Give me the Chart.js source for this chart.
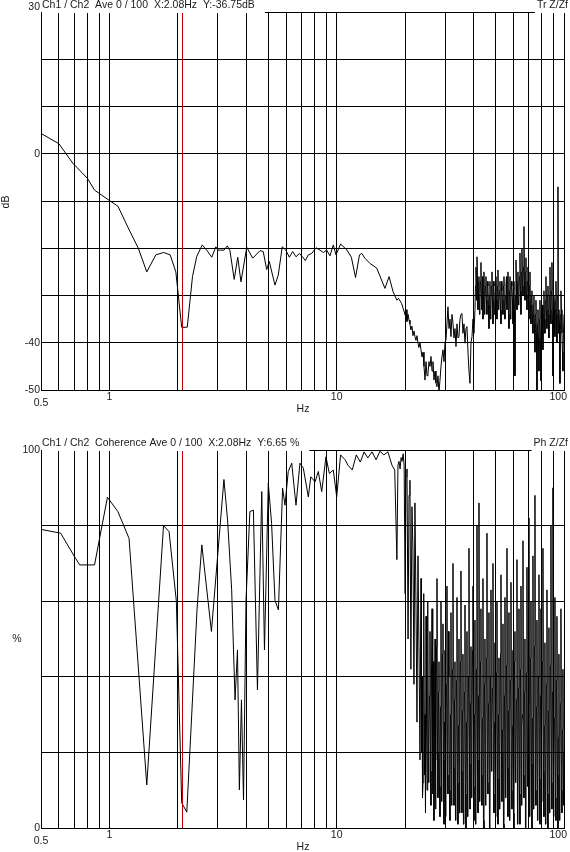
<!DOCTYPE html>
<html lang="en">
<head>
<meta charset="UTF-8">
<title>Tr Z/Zf and Coherence</title>
<style>
    body { margin: 0; background: #fff; }
    .wrap { position: relative; width: 570px; height: 852px; }
    canvas { position: absolute; left: 0; }
    #trChart { top: 0; }
    #cohChart { top: 426px; }
</style>
</head>
<body>
<div class="wrap">
    <canvas id="trChart" width="570" height="426"></canvas>
    <canvas id="cohChart" width="570" height="426"></canvas>
</div>
<script src="https://cdn.jsdelivr.net/npm/chart.js"></script>
<script>
// axes
const xGridHz = [0.5, 0.6, 0.7, 0.8, 0.9, 1, 2, 3, 4, 5, 6, 7, 8, 9, 10, 20, 30, 40, 50, 60, 70, 80, 90, 100];
const xLabelHz = [0.5, 1, 10, 100];
const cursorHz = 2.08;
const trGridDb = [30, 20, 10, 0, -10, -20, -30, -40, -50];
const trLabelDb = [30, 0, -40, -50];
const cohGridPct = [0, 20, 40, 60, 80, 100];
const cohLabelPct = [100, 0];

// transfer function, low band (Hz / dB)
const trFreqLo = [0.5, 0.6, 0.69, 0.8, 0.86, 1.0, 1.09, 1.21, 1.34, 1.46, 1.6, 1.73, 1.85, 1.96, 2.08, 2.2, 2.32, 2.42,
    2.56, 2.68, 2.82, 2.94, 3.01, 3.19, 3.3, 3.39, 3.54, 3.67, 3.79, 4.02, 4.27, 4.6, 4.75, 4.92, 5.05, 5.35, 5.53, 5.76,
    5.97, 6.19, 6.4, 6.62, 6.85, 7.06, 7.28, 7.5, 7.76, 8.11, 8.44, 8.73, 9.04, 9.34, 9.66, 9.93, 10.4, 11.1, 11.6, 12.1,
    12.6, 12.9, 13.3, 14.0, 15.0, 16.3, 17.0, 17.7, 18.4, 18.7, 19.3];
const trDbLo = [4.3, 2.1, -2.0, -5.2, -7.7, -9.9, -11.1, -15.7, -20.0, -25.0, -21.4, -20.9, -21.4, -25.0, -36.75, -36.7,
    -26.0, -21.8, -19.3, -20.4, -21.9, -19.7, -20.4, -20.4, -19.5, -20.5, -26.6, -21.9, -27.1, -19.8, -22.1, -20.5, -20.7,
    -24.5, -22.8, -27.8, -25.7, -19.7, -20.4, -21.9, -20.7, -21.8, -21.1, -21.8, -22.6, -21.4, -21.1, -19.9, -20.4, -20.9,
    -20.4, -21.6, -19.3, -21.4, -19.1, -20.4, -21.9, -26.2, -21.4, -21.1, -22.1, -23.2, -24.2, -28.5, -26.0, -29.2, -31.0,
    -30.6, -31.7];

// frequency bins of the dense band (18.4 .. 100 Hz)
const hzBins = [18.4, 18.6, 18.8, 19.0, 19.2, 19.4, 19.6, 19.8, 20.0, 20.18, 20.38, 20.6, 20.8, 21.0, 21.2, 21.43, 21.65,
    21.87, 22.09, 22.32, 22.55, 22.78, 23.01, 23.25, 23.49, 23.73, 23.97, 24.21, 24.46, 24.71, 24.96, 25.21, 25.47, 25.73,
    25.99, 26.26, 26.52, 26.79, 27.07, 27.34, 27.62, 27.90, 28.18, 28.47, 28.76, 29.05, 29.35, 29.65, 29.95, 30.25, 30.56,
    30.87, 31.19, 31.50, 31.82, 32.15, 32.48, 32.81, 33.14, 33.48, 33.82, 34.16, 34.51, 34.86, 35.21, 35.57, 35.93, 36.30,
    36.67, 37.05, 37.42, 37.81, 38.19, 38.58, 38.97, 39.37, 39.77, 40.17, 40.58, 41.00, 41.42, 41.84, 42.26, 42.69, 43.12,
    43.56, 44.00, 44.45, 44.90, 45.36, 45.82, 46.29, 46.76, 47.24, 47.72, 48.21, 48.70, 49.19, 49.69, 50.20, 50.71, 51.23,
    51.75, 52.28, 52.81, 53.35, 53.89, 54.44, 54.99, 55.55, 56.12, 56.69, 57.27, 57.85, 58.44, 59.03, 59.63, 60.24, 60.85,
    61.47, 62.10, 62.73, 63.37, 64.01, 64.67, 65.32, 65.99, 66.66, 67.34, 68.02, 68.72, 69.41, 70.12, 70.84, 71.56, 72.28,
    73.02, 73.76, 74.51, 75.27, 76.04, 76.81, 77.59, 78.38, 79.18, 79.99, 80.80, 81.62, 82.45, 83.29, 84.14, 85.00, 85.86,
    86.73, 87.61, 88.51, 89.41, 90.32, 91.24, 92.17, 93.11, 94.05, 95.01, 95.98, 96.96, 97.94, 98.94, 100];
// in-between bins of the dense band (23.37 .. 99.44 Hz)
const hzMid = [23.37, 23.61, 23.85, 24.09, 24.33, 24.58, 24.83, 25.08, 25.34, 25.60, 25.86, 26.12, 26.39, 26.65, 26.93,
    27.21, 27.48, 27.76, 28.04, 28.32, 28.61, 28.91, 29.20, 29.50, 29.80, 30.10, 30.40, 30.71, 31.03, 31.34, 31.66, 31.98,
    32.31, 32.64, 32.98, 33.31, 33.65, 33.99, 34.33, 34.68, 35.04, 35.39, 35.75, 36.11, 36.48, 36.86, 37.24, 37.61, 38.00,
    38.39, 38.78, 39.17, 39.57, 39.97, 40.37, 40.79, 41.21, 41.63, 42.05, 42.48, 42.91, 43.34, 43.78, 44.22, 44.68, 45.13,
    45.59, 46.05, 46.53, 47.00, 47.48, 47.96, 48.45, 48.95, 49.44, 49.94, 50.45, 50.97, 51.49, 52.01, 52.55, 53.08, 53.62,
    54.16, 54.72, 55.27, 55.83, 56.40, 56.98, 57.56, 58.14, 58.74, 59.33, 59.93, 60.55, 61.16, 61.78, 62.42, 63.05, 63.69,
    64.34, 64.99, 65.66, 66.32, 67.00, 67.68, 68.37, 69.06, 69.76, 70.48, 71.20, 71.92, 72.65, 73.39, 74.13, 74.89, 75.65,
    76.42, 77.20, 77.98, 78.78, 79.58, 80.39, 81.21, 82.03, 82.87, 83.71, 84.57, 85.43, 86.29, 87.17, 88.06, 88.96, 89.86,
    90.78, 91.70, 92.64, 93.58, 94.53, 95.50, 96.47, 97.45, 98.44, 99.44];

// transfer function, dense band from 20 Hz (hzBins index 8)
const trDbHi = [-34.1, -33, -35.5, -34, -35.2, -36, -37.3, -36.5, -38.5, -37.5, -38.7, -39.5, -38.5, -40.1, -41, -40,
    -41.5, -43, -42, -45, -47.9, -44, -47, -46.5, -44, -45, -42.9, -46, -44, -47.9, -46, -48.5, -49.3, -47, -50.5, -47.9,
    -45, -43, -41.5, -44, -40, -39.4, -36, -32.4, -37, -35, -38.7, -34, -35.9, -39, -37, -40.8, -36, -39, -38.7, -35, -34,
    -33.8, -38, -36, -40.1, -37, -36.6, -42, -46, -48.6, -40, -38.7, -35, -38, -33.1,
    -24, -21.8, -33, -26, -31, -23, -29, -35, -25, -32, -26, -34, -28, -37, -27, -33, -25, -36, -28, -33, -26, -35, -24.6,
    -32, -27, -36, -29, -34, -26, -35, -28, -33, -25, -37, -26, -32, -28, -36, -27, -47, -22.5, -33, -25, -31, -21, -34,
    -20, -30, -15.4, -31, -22, -33, -24, -35, -25, -36, -29, -38, -30, -42, -31, -50, -33, -46, -31, -48, -35, -41.5, -29,
    -38, -26, -37, -28, -39, -24, -36, -23, -47, -30, -38.7, -27, -40, -7, -33, -48.6, -29, -38, -46, -34];
// transfer function on in-between bins from 40.79 Hz (hzMid index 55)
const trDbMid = [-28, -31, -27, -29, -34, -27, -33, -26, -30, -34, -28, -31, -27, -32, -30, -35, -28, -31, -27, -34, -29,
    -31, -28, -33, -29, -33, -27, -31, -28, -33, -30, -26, -30, -34, -29, -35, -27, -31, -29, -33, -30, -27, -28, -32, -26,
    -29, -25, -28, -24, -27, -25, -30, -27, -31, -28, -32, -30, -34, -32, -36, -34, -38, -36, -39, -35, -40, -37, -32, -34,
    -35, -31, -33, -30, -34, -30, -33, -29, -35, -34, -33, -31, -34, -30, -38, -36, -34, -33, -42, -38];

// coherence, low band (Hz / %)
const cohFreqLo = [0.5, 0.61, 0.71, 0.74, 0.86, 0.98, 1.09, 1.22, 1.46, 1.73, 1.83, 1.97, 2.08, 2.19, 2.43, 2.55, 2.81,
    3.19, 3.31, 3.45, 3.57, 3.66, 3.73, 3.81, 3.89, 3.99, 4.15, 4.30, 4.48, 4.68, 4.81, 5.0, 5.17, 5.35, 5.54, 5.78, 5.92,
    6.12, 6.34, 6.62, 6.89, 7.13, 7.50, 7.69, 8.03, 8.30, 8.59, 8.97, 9.28, 9.66, 10.0, 10.4, 10.9, 11.2, 11.7, 12.2,
    12.7, 13.2, 13.7, 14.3, 14.9, 15.5, 16.1, 16.8, 17.5, 18.0];
const cohPctLo = [79.0, 78.0, 71.3, 69.6, 69.6, 87.5, 83.7, 76.6, 11.4, 80.0, 78.4, 60, 6.65, 4.2, 58, 74.9, 52, 92.2,
    81.5, 63.0, 33.9, 47.1, 10.1, 33.9, 7.4, 60.3, 83.7, 84.1, 36.5, 89.0, 47.1, 91.2, 80.6, 60.3, 57.7, 89.9, 85.4, 94.3,
    96.5, 85.4, 96.5, 95.2, 87.6, 92.9, 91.6, 94.3, 89.0, 98.2, 93.8, 94.7, 87.6, 98.7, 97.4, 96.0, 94.7, 98.7, 96.8, 99.5,
    97.9, 99.5, 97.4, 99.7, 98.7, 99.5, 96.0, 94.7];

// coherence, dense band (one value per hzBins entry)
const cohPctHi = [71, 96, 97, 95, 98, 97, 99, 96, 62, 93, 95, 50, 88, 92, 42, 85, 74, 38, 86, 60, 28, 72, 48, 18, 66, 40,
    12, 62, 30, 56, 10, 60, 22, 52, 6, 58, 28, 2, 50, 18, 66, 8, 44, 3, 60, 24, 54, 1, 47, 16, 64, 9, 40, 2, 57, 28, 70,
    6, 44, 14, 61, 1, 50, 22, 68, 4, 46, 12, 59, 0, 52, 20, 74, 5, 48, 26, 64, 2, 55, 13, 80, 4, 86, 25, 58, 6, 66, 0, 50,
    21, 78, 9, 57, 2, 63, 26, 70, 4, 49, 14, 60, 1, 45, 19, 67, 7, 54, 0, 61, 11, 74, 3, 57, 24, 65, 5, 47, 0, 52, 17, 71,
    6, 58, 1, 64, 27, 76, 8, 50, 2, 69, 15, 82, 4, 60, 0, 72, 20, 88, 6, 55, 12, 67, 1, 58, 24, 74, 3, 49, 10, 63, 0, 53,
    18, 80, 5, 90, 13, 61, 2, 56, 0, 46, 16, 58, 4, 42, 20];
// coherence on in-between bins (one value per hzMid entry)
const cohPctMid = [45, 20, 8, 38, 14, 4, 30, 42, 12, 35, 15, 40, 9, 44, 26, 5, 48, 20, 36, 11, 32, 7, 46, 18, 28, 3, 38,
    14, 52, 10, 30, 6, 42, 16, 34, 2, 39, 12, 27, 4, 44, 15, 31, 1, 36, 9, 28, 3, 40, 17, 33, 8, 47, 11, 30, 1, 42, 18, 35,
    7, 44, 14, 29, 2, 38, 6, 45, 12, 33, 0, 40, 15, 37, 9, 28, 3, 41, 13, 30, 5, 46, 20, 26, 1, 35, 8, 43, 16, 31, 2, 39,
    10, 27, 4, 44, 12, 34, 1, 37, 9, 42, 6, 30, 14, 36, 0, 41, 11, 33, 3, 45, 17, 29, 5, 48, 10, 32, 2, 40, 13, 35, 7, 44,
    15, 27, 1, 38, 9, 31, 4, 43, 12, 36, 3, 29, 8, 39, 14, 24, 2, 33, 10, 26, 6];

const TEXT_FONT = '10.5px "Liberation Sans", Arial, sans-serif';
const INK = '#1a1a1a';

// frame decorations: cursor, header texts, tick labels, axis names
const frameText = {
    id: 'frameText',
    afterDraw(chart, args, o) {
        const ctx = chart.ctx, a = chart.chartArea;
        const xs = chart.scales.x, ys = chart.scales.y;
        ctx.save();
        // red cursor
        const cx = Math.round(xs.getPixelForValue(cursorHz)) + 0.5;
        ctx.strokeStyle = '#c00000';
        ctx.lineWidth = 1;
        ctx.beginPath();
        ctx.moveTo(cx, a.top);
        ctx.lineTo(cx, a.bottom);
        ctx.stroke();

        ctx.font = TEXT_FONT;
        ctx.textBaseline = 'middle';
        // header left, on white box
        const tw = ctx.measureText(o.title).width;
        ctx.fillStyle = '#fff';
        ctx.fillRect(a.left + 1, 0, tw + 10, a.top + 1);
        ctx.fillStyle = INK;
        ctx.textAlign = 'left';
        ctx.fillText(o.title, a.left + 1, a.top - 6.5);
        // header right
        const rw = ctx.measureText(o.tag).width;
        ctx.fillStyle = '#fff';
        ctx.fillRect(568 - rw - 2, 0, rw + 4, a.top + 1);
        ctx.fillStyle = INK;
        ctx.textAlign = 'right';
        ctx.fillText(o.tag, 568, a.top - 6.5);

        // y tick labels
        o.yLabels.forEach(v => {
            let y = ys.getPixelForValue(v);
            if (v === ys.max) y += o.topShift;
            ctx.fillText(String(v), a.left - 1, y);
        });
        // x tick labels
        xLabelHz.forEach(v => {
            const px = xs.getPixelForValue(v);
            const txt = String(v);
            const w = ctx.measureText(txt).width;
            let lx = px - w / 2;
            if (lx + w > 567) lx = 567 - w;
            ctx.textAlign = 'left';
            ctx.fillText(txt, lx, a.bottom + (v === 0.5 ? 13.5 : 7.5));
        });
        ctx.textAlign = 'center';
        ctx.fillText('Hz', 303, a.bottom + 19.5);

        // y axis name
        if (o.rotateName) {
            ctx.translate(6, (a.top + a.bottom) / 2 + 1);
            ctx.rotate(-Math.PI / 2);
            ctx.fillText(o.yName, 0, 0);
        } else {
            ctx.fillText(o.yName, 17, (a.top + a.bottom) / 2);
        }
        ctx.restore();
    }
};

// pair up frequency/value lists and order them along the frequency axis
function toPoints(pairs) {
    const pts = [];
    pairs.forEach(([hz, vals]) => hz.forEach((f, i) => pts.push({ x: f, y: vals[i] })));
    return pts.sort((p, q) => p.x - q.x);
}

function makeChart(id, points, yMin, yMax, yGrid, top, text) {
    return new Chart(document.getElementById(id), {
        type: 'line',
        data: {
            datasets: [{
                data: points,
                borderColor: '#000',
                borderWidth: 1,
                pointRadius: 0,
                tension: 0,
                fill: false
            }]
        },
        options: {
            responsive: false,
            animation: false,
            devicePixelRatio: 1,
            layout: { padding: { left: 41, right: 6, top: top, bottom: 426 - top - 378 } },
            plugins: {
                legend: { display: false },
                tooltip: { enabled: false },
                frameText: text
            },
            scales: {
                x: {
                    type: 'logarithmic',
                    min: 0.5,
                    max: 100,
                    afterBuildTicks: s => { s.ticks = xGridHz.map(v => ({ value: v })); },
                    afterFit: s => { s.height = 0; },
                    ticks: { display: false },
                    grid: { color: '#000', lineWidth: 1, drawTicks: false },
                    border: { display: true, color: '#000', width: 1 }
                },
                y: {
                    type: 'linear',
                    min: yMin,
                    max: yMax,
                    afterBuildTicks: s => { s.ticks = yGrid.map(v => ({ value: v })); },
                    afterFit: s => { s.width = 0; },
                    ticks: { display: false },
                    grid: { color: '#000', lineWidth: 1, drawTicks: false },
                    border: { display: true, color: '#000', width: 1 }
                }
            }
        },
        plugins: [frameText]
    });
}

makeChart('trChart',
    toPoints([[trFreqLo, trDbLo], [hzBins.slice(8), trDbHi], [hzMid.slice(55), trDbMid]]),
    -50, 30, trGridDb, 12,
    { title: 'Ch1 / Ch2  Ave 0 / 100  X:2.08Hz  Y:-36.75dB', tag: 'Tr Z/Zf', yLabels: trLabelDb,
      yName: 'dB', rotateName: true, topShift: -5 });

makeChart('cohChart',
    toPoints([[cohFreqLo, cohPctLo], [hzBins, cohPctHi], [hzMid, cohPctMid]]),
    0, 100, cohGridPct, 24,
    { title: 'Ch1 / Ch2  Coherence Ave 0 / 100  X:2.08Hz  Y:6.65 %', tag: 'Ph Z/Zf', yLabels: cohLabelPct,
      yName: '%', rotateName: false, topShift: 0 });
</script>
</body>
</html>
